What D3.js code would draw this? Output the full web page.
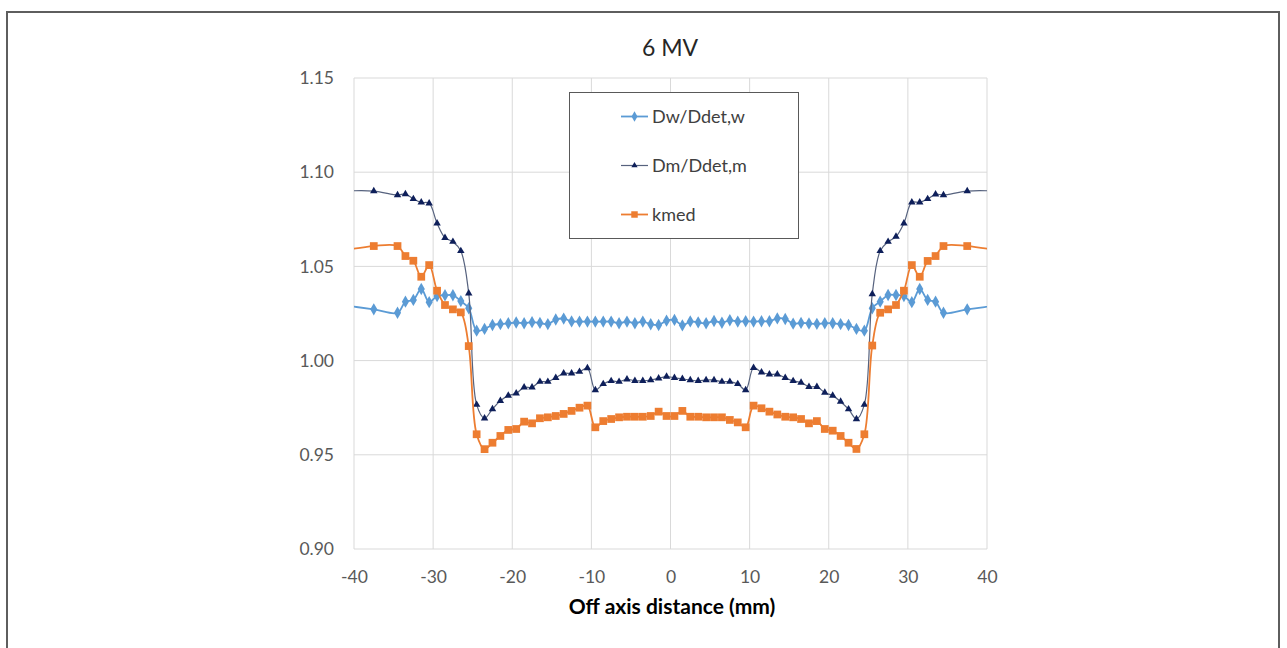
<!DOCTYPE html>
<html>

<head>
  <meta charset="utf-8">
  <style type="text/css">
    body {
      margin: 0;
      background: #fff;
      font-family: Lato, "Open Sans", sans-serif;
    }
  </style>
  <title>6 MV</title>
</head>

<body>
  <script src="https://cdn.jsdelivr.net/npm/d3@7"></script>
  <script>
    // off axis positions (mm)
    var xs = [-42.5, -37.5, -34.5, -33.5, -32.5, -31.5, -30.5, -29.5, -28.5, -27.5, -26.5, -25.5,
      -24.5, -23.5, -22.5, -21.5, -20.5, -19.5, -18.5, -17.5, -16.5, -15.5, -14.5, -13.5, -12.5,
      -11.5, -10.5, -9.5, -8.5, -7.5, -6.5, -5.5, -4.5, -3.5, -2.5, -1.5, -0.5,
      0.5, 1.5, 2.5, 3.5, 4.5, 5.5, 6.5, 7.5, 8.5, 9.5, 10.5, 11.5, 12.5, 13.5, 14.5, 15.5,
      16.5, 17.5, 18.5, 19.5, 20.5, 21.5, 22.5, 23.5, 24.5, 25.5, 26.5, 27.5, 28.5, 29.5, 30.5,
      31.5, 32.5, 33.5, 34.5, 37.5, 42.5];

    var dw = [1.0300, 1.0272, 1.0254, 1.0313, 1.0322, 1.0380, 1.0310, 1.0343, 1.0347, 1.0347, 1.0316, 1.0278,
      1.0159, 1.0168, 1.0189, 1.0194, 1.0198, 1.0202, 1.0198, 1.0204, 1.0200, 1.0194, 1.0218, 1.0223, 1.0208,
      1.0207, 1.0207, 1.0207, 1.0207, 1.0207, 1.0198, 1.0207, 1.0198, 1.0207, 1.0193, 1.0189, 1.0212,
      1.0216, 1.0187, 1.0208, 1.0203, 1.0198, 1.0210, 1.0201, 1.0214, 1.0207, 1.0209, 1.0207, 1.0209, 1.0209, 1.0224, 1.0221, 1.0196,
      1.0200, 1.0197, 1.0195, 1.0198, 1.0198, 1.0194, 1.0189, 1.0168, 1.0159, 1.0278, 1.0313, 1.0348, 1.0348, 1.0343, 1.0310,
      1.0380, 1.0322, 1.0313, 1.0254, 1.0272, 1.0300];

    var dm = [1.0898, 1.0900, 1.0879, 1.0884, 1.0858, 1.0840, 1.0835, 1.0729, 1.0652, 1.0631, 1.0582, 1.0357,
      0.9766, 0.9694, 0.9743, 0.9787, 0.9814, 0.9826, 0.9858, 0.9858, 0.9888, 0.9888, 0.9909, 0.9932, 0.9932,
      0.9941, 0.9960, 0.9844, 0.9876, 0.9892, 0.9888, 0.9901, 0.9893, 0.9893, 0.9897, 0.9906, 0.9915,
      0.9909, 0.9903, 0.9897, 0.9893, 0.9897, 0.9897, 0.9888, 0.9888, 0.9876, 0.9844, 0.9962, 0.9938, 0.9927, 0.9927, 0.9909, 0.9892,
      0.9883, 0.9861, 0.9861, 0.9830, 0.9814, 0.9782, 0.9742, 0.9690, 0.9766, 1.0353, 1.0582, 1.0631, 1.0658, 1.0729, 1.0840,
      1.0840, 1.0858, 1.0883, 1.0879, 1.0900, 1.0898];

    var kmed = [1.0576, 1.0608, 1.0608, 1.0555, 1.0530, 1.0445, 1.0507, 1.0371, 1.0295, 1.0272, 1.0256, 1.0077,
      0.9609, 0.9530, 0.9564, 0.9600, 0.9632, 0.9637, 0.9676, 0.9667, 0.9694, 0.9699, 0.9706, 0.9717, 0.9733,
      0.9750, 0.9761, 0.9646, 0.9679, 0.9690, 0.9699, 0.9702, 0.9702, 0.9702, 0.9706, 0.9729, 0.9706,
      0.9706, 0.9733, 0.9702, 0.9702, 0.9699, 0.9699, 0.9699, 0.9685, 0.9672, 0.9646, 0.9761, 0.9747, 0.9729, 0.9714, 0.9702, 0.9699,
      0.9690, 0.9667, 0.9679, 0.9637, 0.9628, 0.9600, 0.9564, 0.9531, 0.9609, 1.0080, 1.0254, 1.0272, 1.0295, 1.0371, 1.0507,
      1.0445, 1.0529, 1.0555, 1.0608, 1.0608, 1.0576];

    var xTicks = [-40, -30, -20, -10, 0, 10, 20, 30, 40];
    var yTicks = [0.90, 0.95, 1.00, 1.05, 1.10, 1.15];
    var seriesNames = ["Dw/Ddet,w", "Dm/Ddet,m", "kmed"];

    var W = 1287, H = 648;
    var plot = { left: 354, right: 987, top: 78, bottom: 549 };

    var svg = d3.select("body").append("svg")
      .attr("width", W)
      .attr("height", H);

    // outer frame
    svg.append("rect")
      .attr("x", 7).attr("y", 12)
      .attr("width", 1272).attr("height", 700)
      .attr("fill", "none")
      .attr("stroke", "#5e5e5e")
      .attr("stroke-width", 2);

    var x = d3.scaleLinear().domain([-40, 40]).range([plot.left, plot.right]);
    var y = d3.scaleLinear().domain([0.90, 1.15]).range([plot.bottom, plot.top]);

    // grid
    svg.append("g").selectAll("line").data(xTicks).enter().append("line")
      .attr("x1", d => x(d)).attr("x2", d => x(d))
      .attr("y1", plot.top).attr("y2", plot.bottom)
      .attr("stroke", "#d9d9d9").attr("stroke-width", 1);
    svg.append("g").selectAll("line").data(yTicks).enter().append("line")
      .attr("x1", plot.left).attr("x2", plot.right)
      .attr("y1", d => y(d)).attr("y2", d => y(d))
      .attr("stroke", "#d9d9d9").attr("stroke-width", 1);

    // axes (labels only)
    var xAxis = svg.append("g")
      .attr("transform", "translate(0," + (plot.bottom + 19) + ")")
      .call(d3.axisBottom(x).tickValues(xTicks).tickSize(0).tickFormat(d => String(d)));
    var yAxis = svg.append("g")
      .attr("transform", "translate(" + (plot.left - 17) + ",0)")
      .call(d3.axisLeft(y).tickValues(yTicks).tickSize(0).tickFormat(d3.format(".2f")));
    [xAxis, yAxis].forEach(function (g) {
      g.select(".domain").remove();
      g.selectAll("text")
        .attr("fill", "#595959")
        .style("font-family", "Lato, sans-serif")
        .style("font-size", "17.5px");
    });

    svg.append("text")
      .attr("x", 670).attr("y", 56)
      .attr("text-anchor", "middle")
      .attr("fill", "#262626")
      .style("font-size", "23px")
      .text("6 MV");

    svg.append("text")
      .attr("x", 672).attr("y", 614)
      .attr("text-anchor", "middle")
      .attr("fill", "#000")
      .style("font-size", "21px")
      .style("font-weight", "bold")
      .text("Off axis distance (mm)");

    svg.append("clipPath").attr("id", "clip")
      .append("rect")
      .attr("x", plot.left).attr("y", plot.top)
      .attr("width", plot.right - plot.left).attr("height", plot.bottom - plot.top);

    var series = [
      { name: seriesNames[0], values: dw, line: "#5b9bd5", marker: "#5b9bd5", symbol: d3.symbolDiamond, size: 44, width: 1.8 },
      { name: seriesNames[1], values: dm, line: "#56627e", marker: "#0e1f5a", symbol: d3.symbolTriangle, size: 24, width: 1.2 },
      { name: seriesNames[2], values: kmed, line: "#ed7d31", marker: "#ed7d31", symbol: d3.symbolSquare, size: 60, width: 1.8 }
    ];

    var line = d3.line()
      .x(d => x(d[0]))
      .y(d => y(d[1]))
      .curve(d3.curveCatmullRom.alpha(0.5));

    var body = svg.append("g").attr("clip-path", "url(#clip)");

    series.forEach(function (s) {
      var pts = xs.map((v, i) => [v, s.values[i]]);
      body.append("path").datum(pts)
        .attr("d", line)
        .attr("fill", "none")
        .attr("stroke", s.line)
        .attr("stroke-width", s.width);
      body.append("g").selectAll("path").data(pts.filter(p => p[0] >= -40 && p[0] <= 40)).enter()
        .append("path")
        .attr("transform", p => "translate(" + x(p[0]) + "," + y(p[1]) + ")")
        .attr("d", d3.symbol().type(s.symbol).size(s.size))
        .attr("fill", s.marker);
    });

    // legend
    var lg = svg.append("g");
    lg.append("rect")
      .attr("x", 569.5).attr("y", 92.5)
      .attr("width", 229).attr("height", 146)
      .attr("fill", "#fff")
      .attr("stroke", "#595959")
      .attr("stroke-width", 1);
    var rowY = [116.5, 165.5, 214.5];
    series.forEach(function (s, i) {
      lg.append("line")
        .attr("x1", 621).attr("x2", 648)
        .attr("y1", rowY[i]).attr("y2", rowY[i])
        .attr("stroke", s.line).attr("stroke-width", s.width);
      lg.append("path")
        .attr("transform", "translate(634.5," + rowY[i] + ")")
        .attr("d", d3.symbol().type(s.symbol).size(s.size * 0.7))
        .attr("fill", s.marker);
      lg.append("text")
        .attr("x", 652).attr("y", rowY[i])
        .attr("dy", "0.35em")
        .attr("fill", "#404040")
        .style("font-size", "18px")
        .text(s.name);
    });
  </script>
</body>

</html>
